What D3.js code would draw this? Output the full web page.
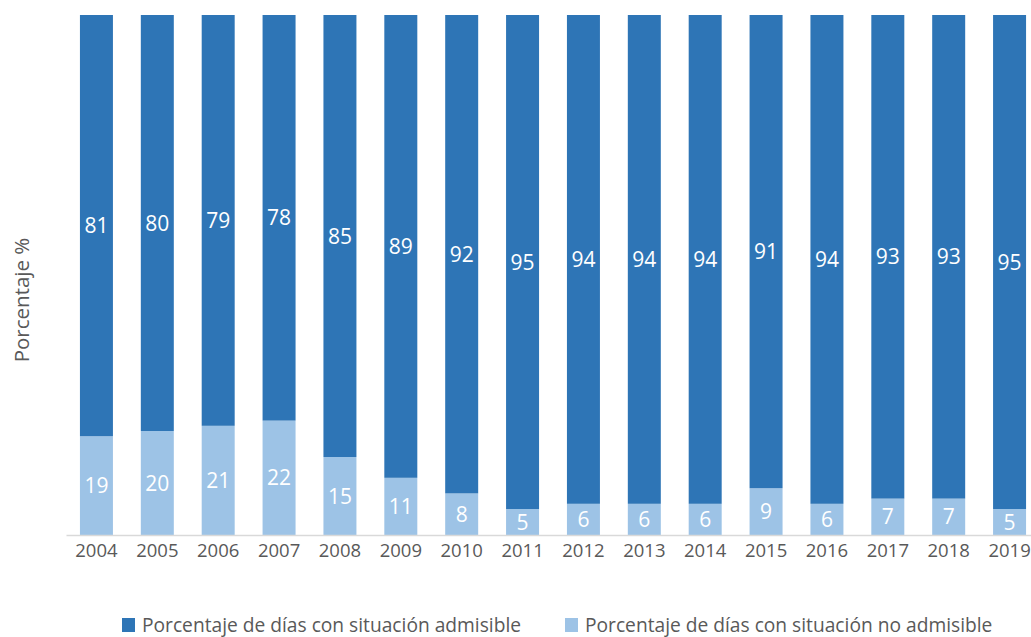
<!DOCTYPE html>
<html><head><meta charset="utf-8">
<script src="https://cdn.jsdelivr.net/npm/d3@7"></script>
<style>body{margin:0;background:#fff}svg{display:block;font-family:"Open Sans",sans-serif}</style>
</head><body><svg id="c" width="1031" height="637"></svg>
<script>
const years = ["2004","2005","2006","2007","2008","2009","2010","2011","2012","2013","2014","2015","2016","2017","2018","2019"];
const admisible = [81,80,79,78,85,89,92,95,94,94,94,91,94,93,93,95];
const noAdmisible = [19,20,21,22,15,11,8,5,6,6,6,9,6,7,7,5];
const seriesNames = ["Porcentaje de días con situación admisible","Porcentaje de días con situación no admisible"];
const colors = ["#2E75B6","#9DC3E6"];

const svg = d3.select("#c");
const x = d3.scaleBand().domain(years).range([66, 1040]).paddingInner(0.458).paddingOuter(0.229);
const y = d3.scaleLinear().domain([0,100]).range([535, 15]);

const rows = years.map((yr,i)=>({year:yr, noadm:noAdmisible[i], adm:admisible[i]}));
const stack = d3.stack().keys(["noadm","adm"]);
const layers = stack(rows);
const layerColor = {noadm:colors[1], adm:colors[0]};

svg.selectAll("g.layer").data(layers).join("g").attr("class","layer")
  .attr("fill", d=>layerColor[d.key])
  .selectAll("rect").data(d=>d).join("rect")
  .attr("x", d=>x(d.data.year)).attr("width", x.bandwidth())
  .attr("y", d=>y(d[1])).attr("height", d=>y(d[0])-y(d[1]));

// labels
layers.forEach(layer=>{
  svg.append("g").selectAll("text").data(layer).join("text")
    .attr("x", d=>x(d.data.year)+x.bandwidth()/2)
    .attr("y", d=>(y(d[0])+y(d[1]))/2)
    .attr("dy","0.36em")
    .attr("text-anchor","middle").attr("fill","#fff").attr("font-size","21px")
    .text(d=>d.data[layer.key]);
});

// x axis
const xAxis = d3.axisBottom(x).tickSize(0).tickPadding(9);
const gx = svg.append("g").attr("transform","translate(0,535)").call(xAxis);
gx.select(".domain").attr("stroke","#d9d9d9").attr("stroke-width",1.5);
gx.selectAll("text").attr("font-size","18.5px").attr("fill","#595959").attr("font-family","Open Sans");

// y title
svg.append("text").attr("transform","translate(29,300) rotate(-90)")
  .attr("text-anchor","middle").attr("font-size","20.5px").attr("fill","#595959").text("Porcentaje %");

// legend
const legX = [122, 565];
const order = [0,1];
order.forEach((k,i)=>{
  const g = svg.append("g").attr("transform",`translate(${legX[i]},618)`);
  g.append("rect").attr("width",13).attr("height",14).attr("fill",colors[k]);
  g.append("text").attr("x",20).attr("y",14).attr("font-size","19.2px").attr("fill","#595959").text(seriesNames[k]);
});
</script></body></html>
